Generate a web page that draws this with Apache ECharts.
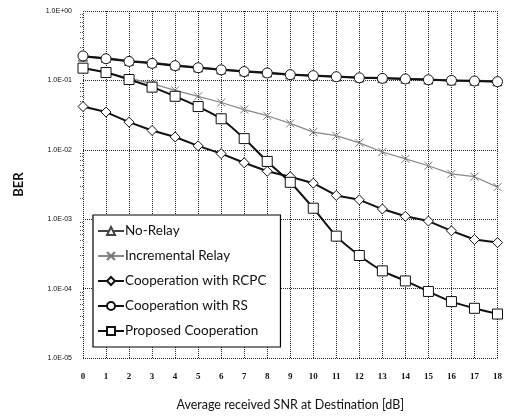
<!DOCTYPE html>
<html><head><meta charset="utf-8">
<script src="https://cdn.jsdelivr.net/npm/echarts@6/dist/echarts.min.js"></script>
<style>html,body{margin:0;padding:0;background:#fff}#c{width:505px;height:416px}</style>
</head><body><div id="c"></div>
<script>
const snr = [0,1,2,3,4,5,6,7,8,9,10,11,12,13,14,15,16,17,18];
const noRelay = [0.22,0.21,0.19,0.18,0.165,0.154,0.144,0.135,0.13,0.122,0.118,0.114,0.11,0.108,0.106,0.103,0.1,0.099,0.097];
const incremental = [0.15,0.13,0.108,0.09,0.072,0.059,0.048,0.038,0.031,0.024,0.018,0.016,0.0126,0.0093,0.0074,0.0059,0.0045,0.0041,0.0029];
const rcpc = [0.042,0.035,0.025,0.019,0.0153,0.0114,0.0088,0.0065,0.0049,0.0041,0.0033,0.0022,0.0019,0.0014,0.0011,0.00094,0.00068,0.00051,0.00046];
const rs = [0.225,0.205,0.188,0.176,0.163,0.152,0.142,0.134,0.128,0.121,0.117,0.113,0.109,0.107,0.105,0.102,0.1,0.098,0.096];
const proposed = [0.15,0.13,0.103,0.08,0.059,0.042,0.028,0.0145,0.0068,0.0034,0.00144,0.00057,0.0003,0.00018,0.000129,0.000091,0.000065,0.000052,0.000043];
const names = ['No-Relay','Incremental Relay','Cooperation with RCPC','Cooperation with RS','Proposed Cooperation'];

const pairs = arr => snr.map((x,i)=>[x,arr[i]]);
const chart = echarts.init(document.getElementById('c'));
const xSym = 'path://M0,0L10,10M0,10L10,0';
function mk(name, data, sym, color, width, size, extra){
  return Object.assign({
    name, type:'line', data: pairs(data), symbol: sym, symbolSize: size,
    lineStyle:{color, width},
    itemStyle:{color:'#fff', borderColor: color, borderWidth: 1},
    emphasis:{disabled:true}
  }, extra||{});
}
chart.setOption({
  animation:false,
  grid:{left:83, right:5, top:11, bottom:55},
  xAxis:{type:'value', min:0, max:18, interval:1,
    name:'Average received SNR at Destination [dB]', nameLocation:'middle', nameGap:40,
    nameTextStyle:{fontFamily:'Lato', fontSize:12.5, color:'#111'},
    axisLine:{show:false}, axisTick:{show:false},
    axisLabel:{fontFamily:'Liberation Serif', fontWeight:'bold', fontSize:9, color:'#111', margin:14},
    splitLine:{show:true, lineStyle:{type:'dotted', color:'#222', width:1}}
  },
  yAxis:{type:'log', logBase:10, min:1e-5, max:1,
    name:'BER', nameLocation:'middle', nameGap:58, nameRotate:90,
    nameTextStyle:{fontFamily:'Lato', fontWeight:'bold', fontSize:13, color:'#111'},
    axisLine:{show:false}, axisTick:{show:false},
    minorTick:{show:true, splitNumber:9, length:3, lineStyle:{color:'#555', type:'dotted'}},
    axisLabel:{fontFamily:'Liberation Sans', fontSize:7, color:'#111', margin:11,
      formatter: v => { const e = Math.round(Math.log10(v)); const s = e<0?'-':'+'; return '1.0E'+s+String(Math.abs(e)).padStart(2,'0'); }},
    splitLine:{show:true, lineStyle:{type:'dotted', color:'#222', width:1}}
  },
  legend:{orient:'vertical', left:93, top:215, width:197, height:133,
    data:names, itemGap:11, itemWidth:26, itemHeight:10,
    padding:[9,14,9,4],
    backgroundColor:'#fff', borderColor:'#000', borderWidth:1.2,
    textStyle:{fontFamily:'Lato', fontSize:13.5, color:'#111', padding:[0,0,0,-4]}
  },
  series:[
    mk(names[0], noRelay, 'triangle', '#444', 2, 9),
    mk(names[1], incremental, xSym, '#888', 1.2, 8, {itemStyle:{color:'transparent', borderColor:'#777', borderWidth:1}}),
    mk(names[2], rcpc, 'diamond', '#111', 2, 10),
    mk(names[3], rs, 'circle', '#111', 2, 10),
    mk(names[4], proposed, 'rect', '#111', 2, 10, {smooth:0.25})
  ]
});
</script></body></html>
